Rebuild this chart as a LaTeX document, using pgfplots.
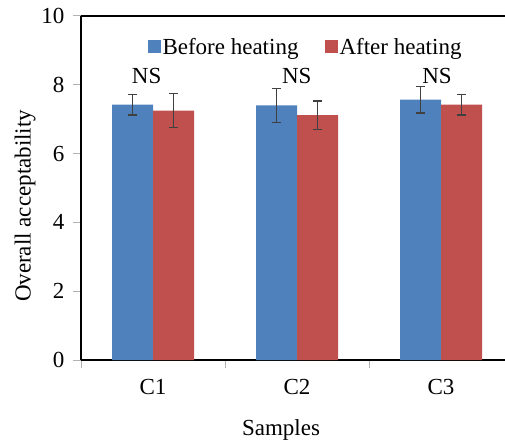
\documentclass[border=0pt]{standalone}
\usepackage{fontspec}
\setmainfont{Liberation Serif}
\usepackage{pgfplots}
\pgfplotsset{compat=1.18}
\definecolor{cblue}{HTML}{4F81BD}
\definecolor{cred}{HTML}{C0504D}
\definecolor{errc}{HTML}{404040}
\begin{document}
\begin{tikzpicture}[font=\fontsize{23}{27}\selectfont]
\path[use as bounding box] (0,0) rectangle (505pt,444pt);
\begin{axis}[
  at={(81pt,84pt)}, anchor=south west,
  scale only axis, width=432pt, height=344pt,
  xmin=0, xmax=3, ymin=0, ymax=10,
  axis x line=box, axis y line=left,
  axis line style={-, line width=2.2pt, black},
  /pgf/number format/assume math mode=true,
  tick align=outside,
  tick style={gray!60, line width=1pt},
  major tick length=8pt,
  ytick={0,2,4,6,8,10},
  yticklabel style={xshift=-5pt},
  xtick={0,1,2}, xticklabels={},
  xtick pos=lower,
  extra x ticks={0.5,1.5,2.5},
  extra x tick labels={C1,C2,C3},
  extra x tick style={major tick length=0pt, xticklabel style={yshift=-16pt}},
  xlabel={Samples},
  xlabel style={at={(axis description cs:0.463,0)}, anchor=center, yshift=-70pt},
  ylabel={Overall acceptability},
  ylabel style={at={(axis description cs:-0.1296,0.448)}, anchor=center},
  ybar=0pt, bar width=41pt,
  legend style={at={(axis description cs:0.5197,0.91)}, anchor=center, draw=none, fill=none,
    legend columns=2, nodes={inner sep=2pt},
    /tikz/every even column/.append style={column sep=24pt}},
  legend image code/.code={\fill[#1] (0pt,-6pt) rectangle (13pt,7pt);},
  error bars/y dir=both, error bars/y explicit,
  error bars/error bar style={line width=1.3pt, errc},
  error bars/error mark options={rotate=90, mark size=4.5pt, line width=1.3pt, errc},
]
\addplot[fill=cblue, draw=none] coordinates {
  (0.5,7.42) +- (0,0.30)
  (1.5,7.40) +- (0,0.50)
  (2.5,7.57) +- (0,0.39)
};
\addplot[fill=cred, draw=none] coordinates {
  (0.5,7.25) +- (0,0.49)
  (1.5,7.12) +- (0,0.41)
  (2.5,7.42) +- (0,0.30)
};
\legend{Before heating, After heating}
\node at (axis cs:0.456,8.26) {NS};
\node at (axis cs:1.498,8.26) {NS};
\node at (axis cs:2.472,8.26) {NS};
\end{axis}
\end{tikzpicture}
\end{document}
